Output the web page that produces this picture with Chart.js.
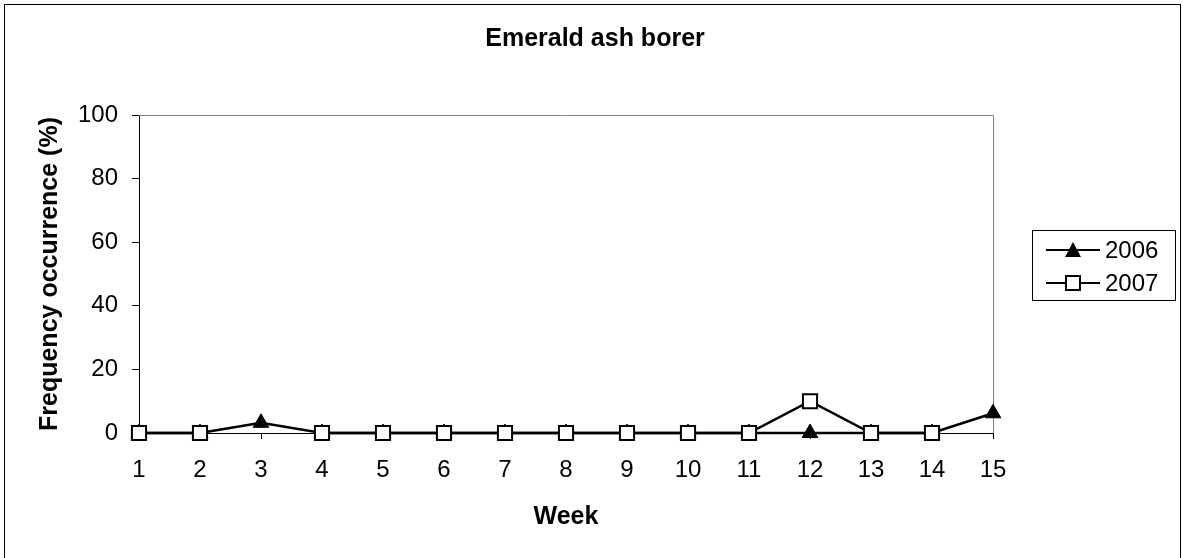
<!DOCTYPE html>
<html>
<head>
<meta charset="utf-8">
<script src="https://cdn.jsdelivr.net/npm/chart.js@4"></script>
<style>
  body { margin: 0; background: #fff; }
  canvas { display: block; }
</style>
</head>
<body>
<canvas id="chart" width="1183" height="558"></canvas>
<script>
const weeks = ["1","2","3","4","5","6","7","8","9","10","11","12","13","14","15"];
const freq2006 = [0, 0, 3.2, 0, 0, 0, 0, 0, 0, 0, 0, 0, 0, 0, 6.2];
const freq2007 = [0, 0, null, 0, 0, 0, 0, 0, 0, 0, 0, 10, 0, 0, null];
const yTicks = [0, 20, 40, 60, 80, 100];
const chartTitle = "Emerald ash borer";

const FONT = '"Liberation Sans", Arial, sans-serif';

// outer frame, title, plot frame and the legend box
const frame = {
    id: "frame",
    beforeDraw(chart) {
        const ctx = chart.ctx;
        ctx.save();
        ctx.strokeStyle = "#000";
        ctx.lineWidth = 1;
        ctx.strokeRect(4.5, 4.5, 1176, 560);
        ctx.fillStyle = "#000";
        ctx.font = "bold 25px " + FONT;
        ctx.textAlign = "center";
        ctx.textBaseline = "middle";
        ctx.fillText(chartTitle, 595, 39);
        ctx.restore();
    },
    beforeDatasetsDraw(chart) {
        const a = chart.chartArea;
        const ctx = chart.ctx;
        ctx.save();
        ctx.strokeStyle = "#808080";
        ctx.lineWidth = 1;
        ctx.beginPath();
        ctx.moveTo(a.left, a.top + 0.5);
        ctx.lineTo(a.right + 0.5, a.top + 0.5);
        ctx.lineTo(a.right + 0.5, a.bottom);
        ctx.stroke();
        ctx.restore();
    },
    afterDraw(chart) {
        const ctx = chart.ctx;
        ctx.save();
        ctx.strokeStyle = "#000";
        ctx.lineWidth = 1;
        ctx.strokeRect(1032.5, 230.5, 143, 70);
        const rows = [
            { label: "2006", y: 250, style: "triangle" },
            { label: "2007", y: 283, style: "rect" }
        ];
        rows.forEach(r => {
            ctx.strokeStyle = "#000";
            ctx.lineWidth = 2;
            ctx.beginPath();
            ctx.moveTo(1046, r.y);
            ctx.lineTo(1100, r.y);
            ctx.stroke();
            if (r.style === "triangle") {
                ctx.fillStyle = "#000";
                ctx.beginPath();
                ctx.moveTo(1073, r.y - 8);
                ctx.lineTo(1081, r.y + 7);
                ctx.lineTo(1065, r.y + 7);
                ctx.closePath();
                ctx.fill();
            } else {
                ctx.fillStyle = "#fff";
                ctx.fillRect(1066, r.y - 7, 14, 14);
                ctx.strokeRect(1066, r.y - 7, 14, 14);
            }
            ctx.fillStyle = "#000";
            ctx.font = "24px " + FONT;
            ctx.textBaseline = "middle";
            ctx.textAlign = "left";
            ctx.fillText(r.label, 1105, r.y + 1);
        });
        ctx.restore();
    }
};

new Chart(document.getElementById("chart"), {
    type: "line",
    data: {
        labels: weeks,
        datasets: [
            {
                label: "2006",
                data: freq2006,
                order: 1,
                clip: false,
                borderColor: "#000",
                borderWidth: 2.5,
                backgroundColor: "#000",
                pointStyle: "triangle",
                pointRadius: 9,
                pointBorderWidth: 1,
                pointBackgroundColor: "#000",
                spanGaps: false,
                tension: 0
            },
            {
                label: "2007",
                data: freq2007,
                order: 0,
                clip: false,
                borderColor: "#000",
                borderWidth: 2.5,
                pointStyle: "rect",
                pointRadius: 10,
                pointBorderWidth: 2,
                pointBackgroundColor: "#fff",
                pointBorderColor: "#000",
                spanGaps: false,
                tension: 0
            }
        ]
    },
    options: {
        responsive: false,
        animation: false,
        events: [],
        layout: { padding: { top: 115, right: 190, bottom: 0, left: 0 } },
        plugins: {
            legend: { display: false },
            tooltip: { enabled: false },
            title: { display: false }
        },
        scales: {
            x: {
                type: "category",
                offset: false,
                afterFit(scale) { scale.height = 125; },
                grid: { drawOnChartArea: false, tickLength: 6, color: "#000" },
                border: { color: "#000", width: 1 },
                ticks: {
                    color: "#000",
                    padding: 17,
                    maxRotation: 0,
                    autoSkip: false,
                    font: { family: FONT, size: 24 }
                },
                title: {
                    display: true,
                    text: "Week",
                    color: "#000",
                    font: { family: FONT, size: 25, weight: "bold" },
                    padding: { top: 0, bottom: 26 }
                }
            },
            y: {
                min: 0,
                max: 100,
                afterFit(scale) { scale.width = 139; },
                afterBuildTicks(scale) { scale.ticks = yTicks.map(v => ({ value: v })); },
                grid: { drawOnChartArea: false, tickLength: 7, color: "#000" },
                border: { color: "#000", width: 1 },
                ticks: {
                    color: "#000",
                    padding: 14,
                    font: { family: FONT, size: 24 }
                },
                title: {
                    display: true,
                    text: "Frequency occurrence (%)",
                    color: "#000",
                    font: { family: FONT, size: 25, weight: "bold" },
                    padding: { top: 35, bottom: 0 }
                }
            }
        }
    },
    plugins: [frame]
});
</script>
</body>
</html>
